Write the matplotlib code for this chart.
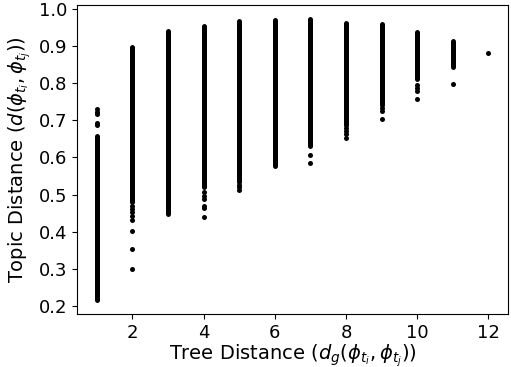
import matplotlib
matplotlib.use("Agg")
import matplotlib.pyplot as plt

# Tree distance categories
tree_dist = [1, 2, 3, 4, 5, 6, 7, 8, 9, 10, 11, 12]
# Dense (visually continuous) ranges of topic distance per tree distance
dense_lo = [0.216, 0.480, 0.448, 0.520, 0.535, 0.578, 0.632, 0.690, 0.740, 0.810, 0.842, None]
dense_hi = [0.658, 0.896, 0.941, 0.954, 0.968, 0.970, 0.972, 0.963, 0.960, 0.938, 0.914, None]
# Isolated points per tree distance
sparse_pts = {
    1: [0.729, 0.722, 0.716, 0.692, 0.687],
    2: [0.470, 0.462, 0.453, 0.443, 0.431, 0.402, 0.353, 0.300],
    3: [],
    4: [0.508, 0.497, 0.487, 0.469, 0.463, 0.440],
    5: [0.527, 0.520, 0.513],
    6: [],
    7: [0.607, 0.584],
    8: [0.688, 0.680, 0.670, 0.662, 0.652],
    9: [0.733, 0.725, 0.703],
    10: [0.795, 0.787, 0.778, 0.757],
    11: [0.797],
    12: [0.881],
}

dpi = 100
fig = plt.figure(figsize=(5.11, 3.67), dpi=dpi)
ax = fig.add_axes([0.151, 0.144, 0.843, 0.842])

d_pt = 5.0 * 72 / dpi  # marker diameter in points

for x, lo, hi in zip(tree_dist, dense_lo, dense_hi):
    if lo is not None:
        ax.plot([x, x], [lo, hi], color="black", lw=d_pt, solid_capstyle="round")

xs, ys = [], []
for x in tree_dist:
    for v in sparse_pts[x]:
        xs.append(x)
        ys.append(v)
ax.scatter(xs, ys, s=d_pt ** 2, c="black", linewidths=0)

ax.set_xticks([2, 4, 6, 8, 10, 12])
ax.set_yticks([0.2, 0.3, 0.4, 0.5, 0.6, 0.7, 0.8, 0.9, 1.0])
ax.tick_params(labelsize=13)
ax.set_xlabel(r"Tree Distance ($d_g(\phi_{t_i}, \phi_{t_j})$)", fontsize=14, labelpad=0)
ax.set_ylabel(r"Topic Distance ($d(\phi_{t_i}, \phi_{t_j})$)", fontsize=14, labelpad=4)

fig.savefig("out.png", dpi=dpi)
